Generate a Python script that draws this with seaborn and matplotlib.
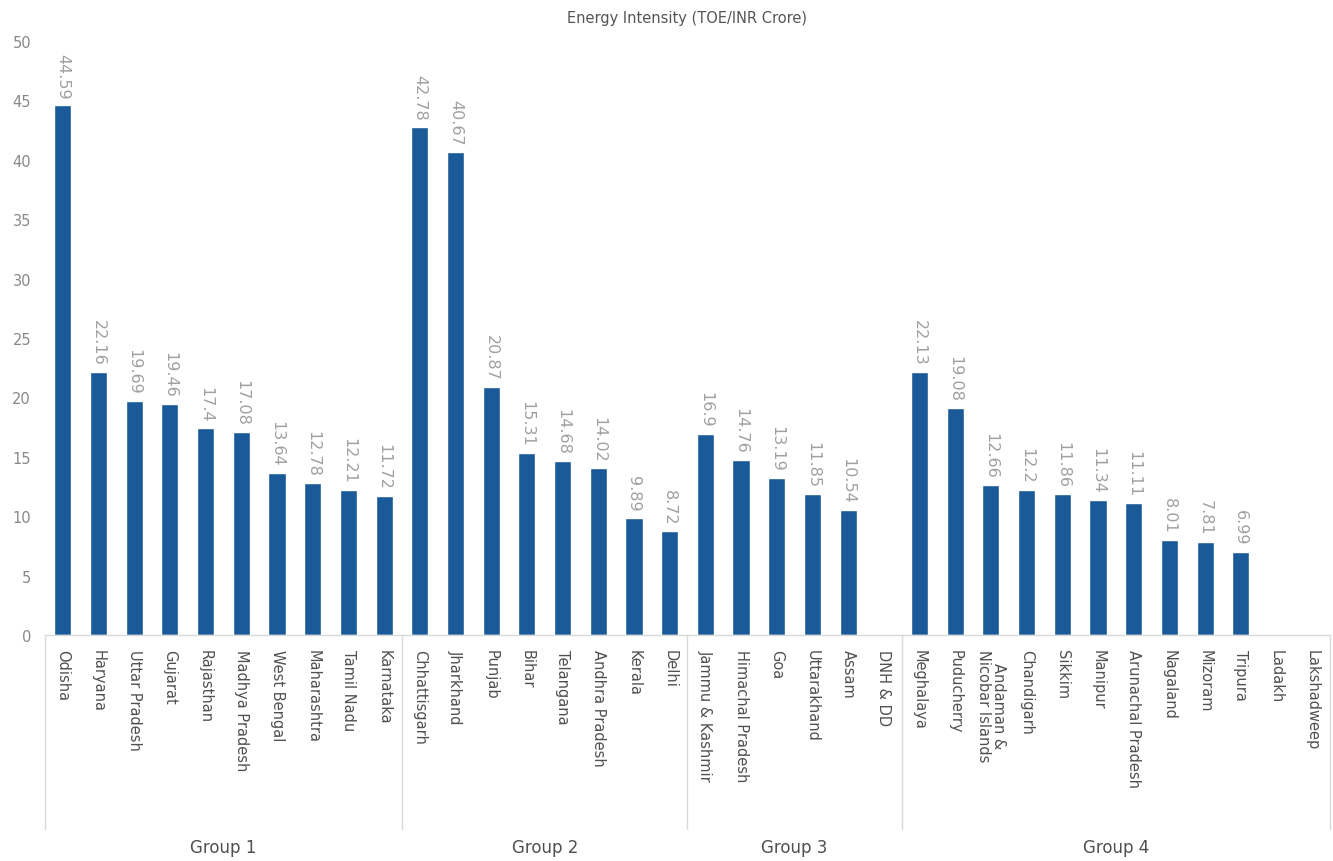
import numpy as np
import pandas as pd
import matplotlib
matplotlib.use("Agg")
import matplotlib.pyplot as plt
import matplotlib.transforms as mtransforms
import seaborn as sns

group1 = ["Odisha", "Haryana", "Uttar Pradesh", "Gujarat", "Rajasthan", "Madhya Pradesh",
          "West Bengal", "Maharashtra", "Tamil Nadu", "Karnataka"]
vals1 = [44.59, 22.16, 19.69, 19.46, 17.4, 17.08, 13.64, 12.78, 12.21, 11.72]
group2 = ["Chhattisgarh", "Jharkhand", "Punjab", "Bihar", "Telangana", "Andhra Pradesh", "Kerala", "Delhi"]
vals2 = [42.78, 40.67, 20.87, 15.31, 14.68, 14.02, 9.89, 8.72]
group3 = ["Jammu & Kashmir", "Himachal Pradesh", "Goa", "Uttarakhand", "Assam", "DNH & DD"]
vals3 = [16.9, 14.76, 13.19, 11.85, 10.54, np.nan]
group4 = ["Meghalaya", "Puducherry", "Andaman &\nNicobar Islands", "Chandigarh", "Sikkim", "Manipur",
          "Arunachal Pradesh", "Nagaland", "Mizoram", "Tripura", "Ladakh", "Lakshadweep"]
vals4 = [22.13, 19.08, 12.66, 12.2, 11.86, 11.34, 11.11, 8.01, 7.81, 6.99, np.nan, np.nan]
group_names = ["Group 1", "Group 2", "Group 3", "Group 4"]
title = "Energy Intensity (TOE/INR Crore)"

groups = [group1, group2, group3, group4]
values = [vals1, vals2, vals3, vals4]
cats = sum(groups, [])
vals = sum(values, [])
df = pd.DataFrame({"state": cats, "value": vals})

sns.set_theme(style="white")
plt.rcParams['font.family'] = ['DejaVu Sans']

fig = plt.figure(figsize=(13.33, 8.62), dpi=100)
ax = fig.add_axes([45 / 1333, (862 - 636) / 862, (1330 - 45) / 1333, (636 - 42) / 862])

sns.barplot(data=df, x="state", y="value", order=cats, color="#1b5a98", saturation=1,
            width=0.48, ax=ax, errorbar=None)

ax.set_ylim(0, 50)
ax.set_xlim(-0.5, len(cats) - 0.5)
ax.set_yticks(np.arange(0, 51, 5))
ax.tick_params(axis="y", labelsize=10.5, colors="#888888", length=0, pad=10)
ax.tick_params(axis="x", labelsize=10.5, colors="#505050", length=0, pad=10)
ax.set_xticks(range(len(cats)))
ax.set_xticklabels(cats, rotation=-90, va="top", ha="center", linespacing=1.0)
ax.set_xlabel("")
ax.set_ylabel("")
for s in ["top", "right", "left"]:
    ax.spines[s].set_visible(False)
ax.spines["bottom"].set_color("#d9d9d9")
ax.spines["bottom"].set_linewidth(1)

for i, v in enumerate(vals):
    if not np.isnan(v):
        lab = f"{v:g}"
        ax.text(i, v + 0.6, lab, rotation=-90, ha="center", va="bottom",
                fontsize=11.5, color="#a0a0a0")

ax.set_title(title, fontsize=10.5, color="#555555", pad=14)

trans = mtransforms.blended_transform_factory(ax.transData, ax.transAxes)
bounds = [-0.5]
pos = -0.5
for g in groups:
    pos += len(g)
    bounds.append(pos)
for b in bounds:
    ax.plot([b, b], [0, -0.327], transform=trans, color="#d9d9d9", lw=1, clip_on=False)
for k, name in enumerate(group_names):
    center = (bounds[k] + bounds[k + 1]) / 2
    ax.text(center, -0.357, name, transform=trans, ha="center", va="center",
            fontsize=12, color="#505050")

fig.savefig("out.png", dpi=100)
